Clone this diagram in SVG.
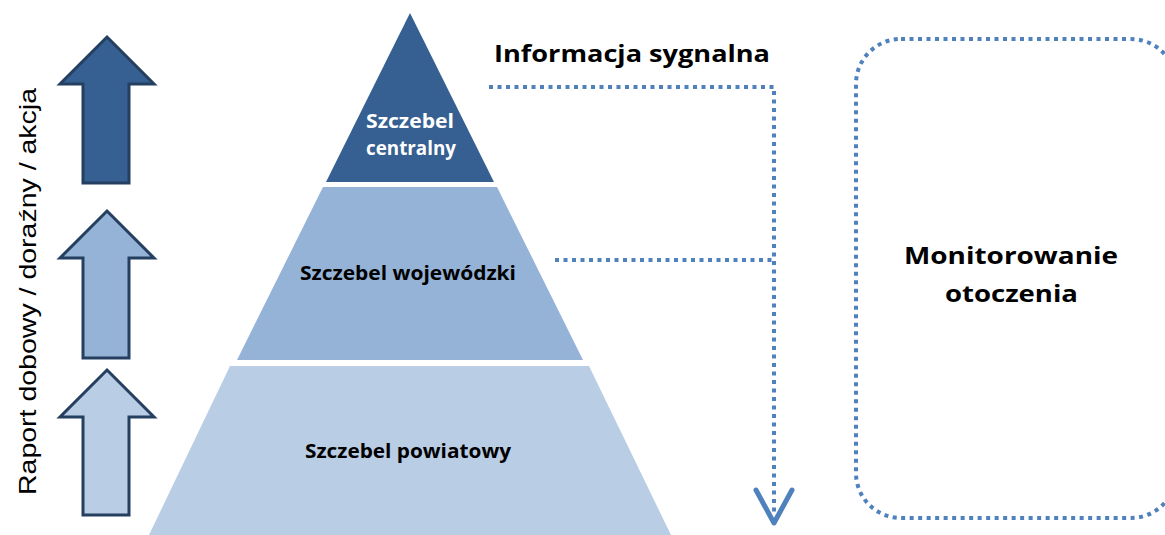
<svg xmlns="http://www.w3.org/2000/svg" width="1165" height="535" viewBox="0 0 1165 535">
<style>
.arr{stroke:#243f60;stroke-width:3;stroke-linejoin:miter}
.lvl{font-family:"Open Sans","Liberation Sans",sans-serif;font-weight:bold;font-size:19px}
.dot{fill:none;stroke:#4f81bd;stroke-width:4;stroke-dasharray:4 4.5}
.big{font-family:"Open Sans","Liberation Sans",sans-serif;font-weight:bold;fill:#000}
</style>
<rect width="1165" height="535" fill="#fff"/>
<g id="arrows-left">
<polygon class="arr" fill="#366092" points="107,37 154,84 129,84 129,183 83,183 83,84 60,84"/>
<polygon class="arr" fill="#95b3d7" points="107,211 154,258 129,258 129,358 83,358 83,258 60,258"/>
<polygon class="arr" fill="#b9cde5" points="107,370 154,417 129,417 129,515 83,515 83,417 60,417"/>
</g>
<g id="side-label">
<text transform="translate(36,495) rotate(-90)" font-family="Liberation Sans, Arial, sans-serif" font-size="24" fill="#000" textLength="407" lengthAdjust="spacingAndGlyphs">Raport dobowy / doraźny / akcja</text>
</g>
<g id="level-central">
<polygon fill="#366092" points="410,13 494,182 326,182"/>
<text class="lvl" fill="#fff" x="366" y="128" textLength="88" lengthAdjust="spacingAndGlyphs">Szczebel</text>
<text class="lvl" fill="#fff" x="366" y="155" textLength="90" lengthAdjust="spacingAndGlyphs">centralny</text>
</g>
<g id="level-voivodeship">
<polygon fill="#95b3d7" points="323,187 497,187 583,360 237,360"/>
<text class="lvl" fill="#000" x="300" y="280" textLength="216" lengthAdjust="spacingAndGlyphs">Szczebel wojewódzki</text>
</g>
<g id="level-district">
<polygon fill="#b9cde5" points="230,366 589,366 671,535 149,535"/>
<text class="lvl" fill="#000" x="305" y="458" textLength="206" lengthAdjust="spacingAndGlyphs">Szczebel powiatowy</text>
</g>
<g id="signal-title">
<text class="big" x="494" y="62" font-size="23" textLength="276" lengthAdjust="spacingAndGlyphs">Informacja sygnalna</text>
</g>
<g id="connectors">
<path class="dot" d="M489,87 H774 V512"/>
<path class="dot" d="M555,260 H774"/>
<path d="M756,490 L774,523 L792,490" fill="none" stroke="#4f81bd" stroke-width="5" stroke-linecap="round" stroke-linejoin="round"/>
</g>
<g id="monitoring">
<rect class="dot" x="856" y="39" width="320" height="479" rx="45" ry="45"/>
<text class="big" x="904" y="264" font-size="24" textLength="214" lengthAdjust="spacingAndGlyphs">Monitorowanie</text>
<text class="big" x="945" y="302" font-size="24" textLength="133" lengthAdjust="spacingAndGlyphs">otoczenia</text>
</g>
</svg>
